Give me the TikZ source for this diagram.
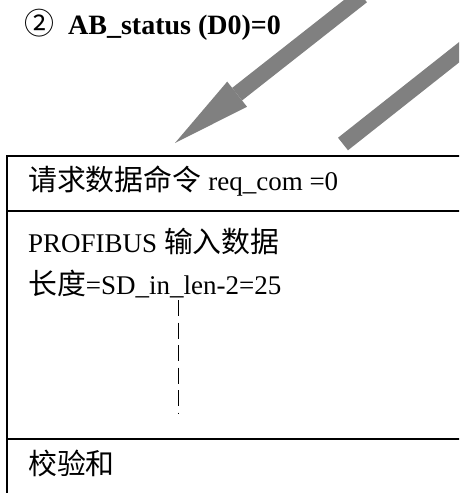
\documentclass[tikz,border=0pt]{standalone}
\usepackage{fontspec}
\setmainfont{Liberation Serif}
\newfontfamily\cjk[Scale=1.07]{Noto Sans CJK SC}
\usetikzlibrary{arrows.meta}

\begin{document}
\begin{tikzpicture}[x=1pt,y=-1pt]
	\tikzset{row/.style={anchor=base west, inner sep=0pt, font=\fontsize{27}{32}\selectfont}}
	\tikzset{frame/.style={line width=2pt}}
	\tikzset{bigarrow/.style={draw=gray, line width=16pt}}

	\useasboundingbox (0,0) rectangle (459,493);
	\clip (0,0) rectangle (459,493);

	% title
	\node[row, font=\fontsize{28}{32}\selectfont\cjk] (circ) at (24,34) {②};
	\node[row, font=\fontsize{28}{32}\selectfont\bfseries] (title) at (68,34) {AB\_status (D0)=0};

	% arrows
	\coordinate (a1s) at (362,-4);
	\coordinate (a1e) at (175,143);
	\coordinate (a2s) at (343,144);
	\coordinate (a2e) at (486,31);
	\draw[bigarrow, -{Triangle[length=79pt,width=32pt,line width=0pt]}] (a1s) -- (a1e);
	\draw[bigarrow] (a2s) -- (a2e);

	% frame
	\draw[frame] (7,505) -- (7,155.5) -- (470,155.5);
	\draw[frame] (7,210.5) -- (470,210.5);
	\draw[frame] (7,439) -- (470,439);

	% rows
	\node[row] (req) at (28,190) {{\cjk 请求数据命令} req\_com =0};
	\node[row] (inp) at (28,252) {PROFIBUS {\cjk 输入数据}};
	\node[row] (len) at (28,294) {{\cjk 长度}=SD\_in\_len-2=25};
	\node[row] (sum) at (28,474) {\cjk 校验和};

	\draw[line width=1pt, dash pattern=on 16pt off 6.5pt] (178,300) -- (178,413);
\end{tikzpicture}
\end{document}
